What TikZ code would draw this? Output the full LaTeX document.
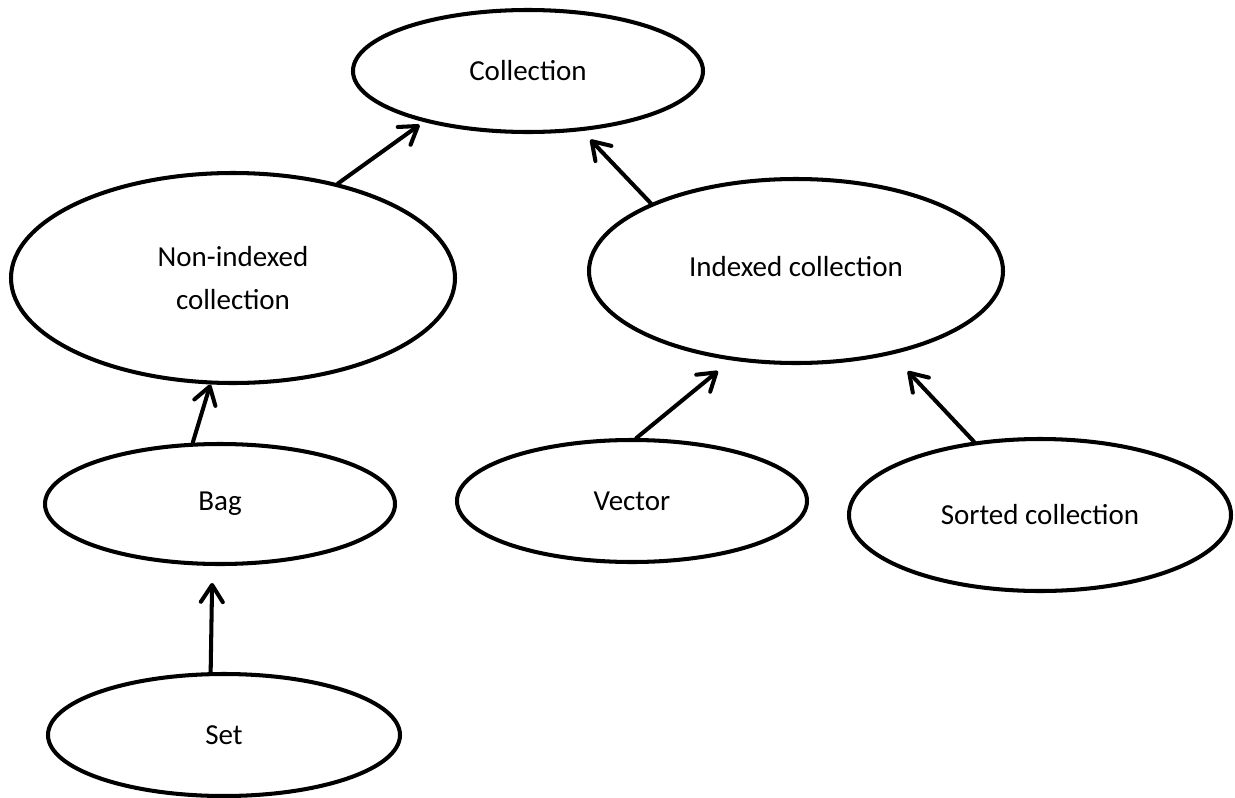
\documentclass[tikz,border=0pt]{standalone}
\usepackage{fontspec}
\setmainfont{Carlito}
\usetikzlibrary{shapes.geometric,arrows.meta}

\begin{document}
\begin{tikzpicture}[
  cls/.style={draw=black,line width=2.3pt,ellipse,inner sep=0pt,align=center,
    font=\fontsize{16.5}{24}\selectfont},
  inh/.style={line width=2.3pt,line cap=round,
    -{Straight Barb[length=3.4mm,width=4.4mm,line cap=round,line join=round]}}]
\useasboundingbox (0,0) rectangle (24.7,-15.96);

\node[cls,minimum width=7.0cm,minimum height=2.44cm] (coll) at (10.56,-1.42) {Collection};
\node[cls,minimum width=8.88cm,minimum height=4.2cm] (nonidx) at (4.66,-5.56) {Non-indexed\\collection};
\node[cls,minimum width=8.28cm,minimum height=3.68cm] (idx) at (15.92,-5.42) {\raisebox{0.2cm}{Indexed collection}};
\node[cls,minimum width=7.0cm,minimum height=2.4cm] (bag) at (4.4,-10.08) {Bag};
\node[cls,minimum width=7.0cm,minimum height=2.44cm] (vec) at (12.64,-10.02) {Vector};
\node[cls,minimum width=7.64cm,minimum height=3.04cm] (sorted) at (20.8,-10.3) {Sorted collection};
\node[cls,minimum width=7.04cm,minimum height=2.44cm] (set) at (4.48,-14.7) {Set};

\draw[inh,shorten >=0.1cm] (nonidx.42) -- (coll.206);
\draw[inh,shorten >=0.24cm] (idx.155) -- (coll.312);
\draw[inh] (bag.114) -- (nonidx.258);
\draw[inh,shorten >=0.34cm] (vec.86) -- (idx.234);
\draw[inh,shorten >=0.46cm] (sorted.132) -- (idx.319);
\draw[inh,shorten >=0.34cm] (set.102) -- (bag.263);

\end{tikzpicture}
\end{document}
